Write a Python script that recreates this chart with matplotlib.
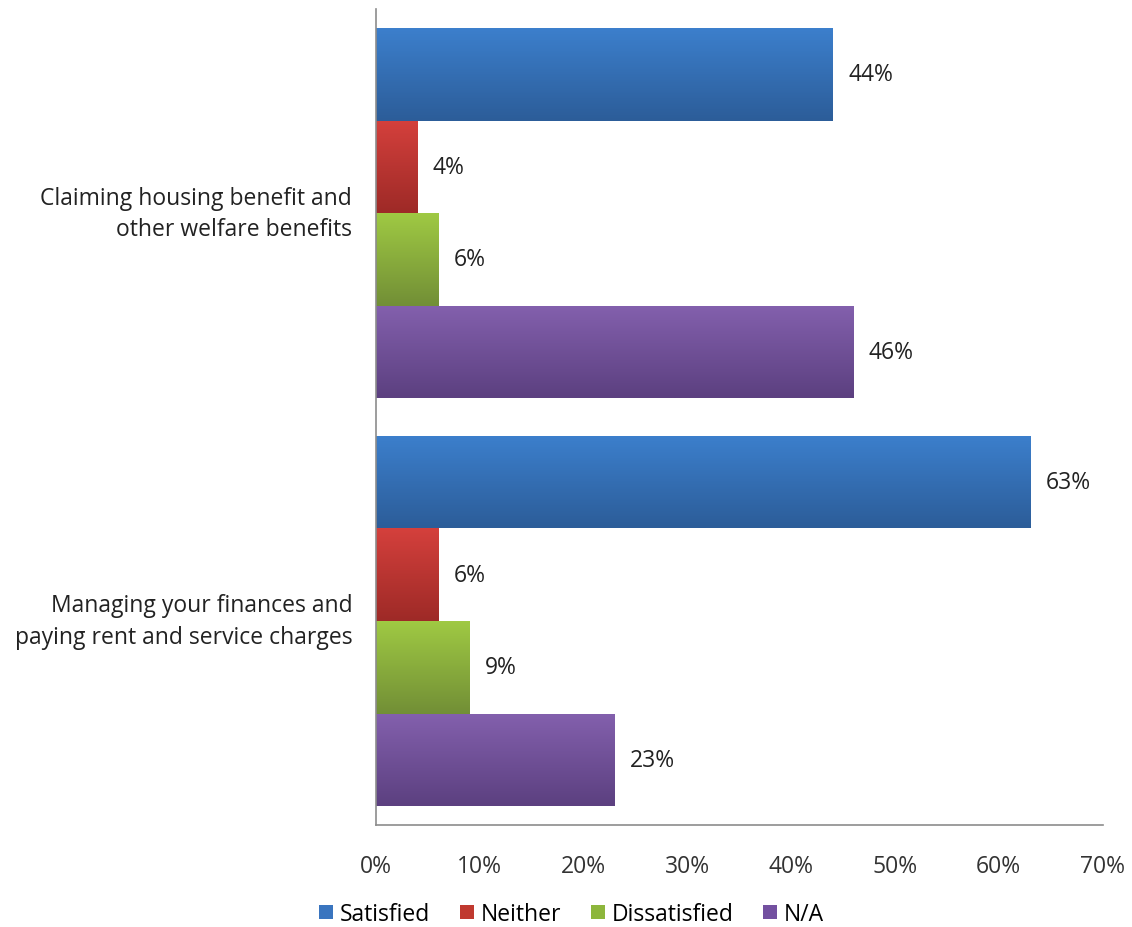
import matplotlib
matplotlib.use("Agg")
import matplotlib.pyplot as plt
import numpy as np
from matplotlib.colors import LinearSegmentedColormap
from matplotlib.patches import Patch

plt.rcParams.update({"font.family": ["Open Sans", "DejaVu Sans"], "font.size": 16.5})

categories = ["Claiming housing benefit and\nother welfare benefits",
              "Managing your finances and\npaying rent and service charges"]
series = ["Satisfied", "Neither", "Dissatisfied", "N/A"]
values = {
    "Satisfied":    [44, 63],
    "Neither":      [4, 6],
    "Dissatisfied": [6, 9],
    "N/A":          [46, 23],
}
xticks = [0, 10, 20, 30, 40, 50, 60, 70]

# top / bottom shade of each bar gradient
shades = {
    "Satisfied":    ("#3c7fcc", "#2c5d99"),
    "Neither":      ("#d4403c", "#9e2a27"),
    "Dissatisfied": ("#9fc943", "#728f36"),
    "N/A":          ("#8360ad", "#5c4080"),
}
legend_col = {"Satisfied": "#3a75bf", "Neither": "#c0392f", "Dissatisfied": "#8db63c", "N/A": "#7350a0"}

fig = plt.figure(figsize=(11.32, 9.28), dpi=100)
ax = fig.add_axes([0.332, 0.110, 0.642, 0.879])

h = 0.227
offsets = (np.arange(len(series)) - 1.5) * h
grad = np.linspace(0, 1, 64).reshape(-1, 1)

for i, s in enumerate(series):
    ys = np.arange(len(categories)) + offsets[i]
    bars = ax.barh(ys, values[s], height=h, color="none", edgecolor="none", zorder=2)
    cmap = LinearSegmentedColormap.from_list(s, shades[s])
    for b, v in zip(bars, values[s]):
        x0, y0 = b.get_x(), b.get_y()
        im = ax.imshow(grad, cmap=cmap, aspect="auto", origin="upper",
                       extent=[x0, x0 + b.get_width(), y0 + b.get_height(), y0], zorder=2)
        im.set_clip_path(b)
        ax.text(v + 1.5, y0 + b.get_height() / 2, f"{v}%", va="center", ha="left",
                fontsize=16.5, color="#222222")

ax.set_xlim(0, 70)
ax.set_ylim(1.5, -0.5)
ax.set_xticks(xticks)
ax.set_xticklabels([f"{t}%" for t in xticks], color="#333333")
ax.set_yticks(range(len(categories)))
ax.set_yticklabels(categories, ha="right", va="center", color="#222222", linespacing=1.4)
ax.tick_params(axis="y", length=0, pad=17)
ax.tick_params(axis="x", length=0, pad=21)
for sp in ["top", "right"]:
    ax.spines[sp].set_visible(False)
for sp in ["left", "bottom"]:
    ax.spines[sp].set_color("#8c8c8c")
    ax.spines[sp].set_linewidth(1.2)

handles = [Patch(facecolor=legend_col[s], label=s) for s in series]
fig.legend(handles=handles, loc="center", bbox_to_anchor=(0.505, 0.014), ncol=4, frameon=False,
           fontsize=16.5, handlelength=0.6, handleheight=0.6, handletextpad=0.3, columnspacing=1.3)

fig.savefig("out.png", dpi=100, facecolor="white")
